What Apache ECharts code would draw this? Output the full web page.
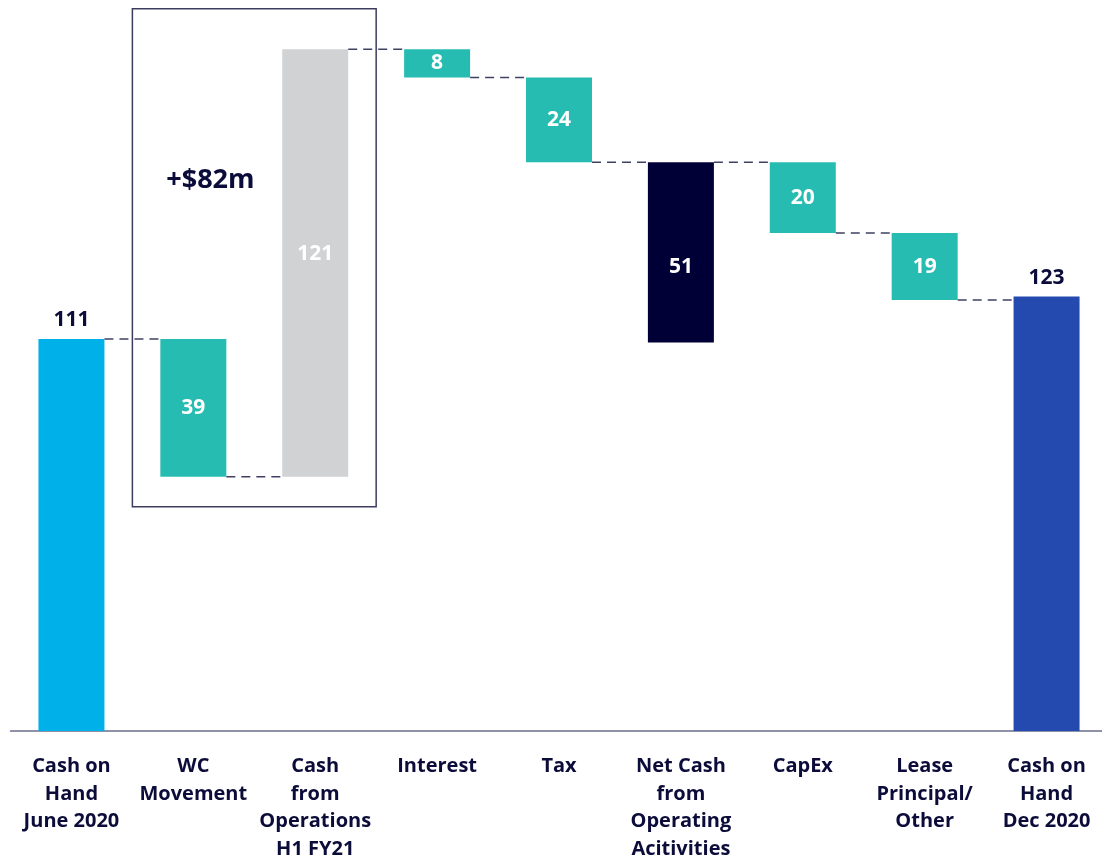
<!DOCTYPE html>
<html>
<head>
<meta charset="utf-8">
<script src="https://cdn.jsdelivr.net/npm/echarts@6/dist/echarts.min.js"></script>
<style>
  html, body { margin: 0; padding: 0; background: #fff; }
  #chart { width: 1102px; height: 861px; }
</style>
</head>
<body>
<div id="chart"></div>
<script>
  const categories = [
    'Cash on\nHand\nJune 2020',
    'WC\nMovement',
    'Cash\nfrom\nOperations\nH1 FY21',
    'Interest',
    'Tax',
    'Net Cash\nfrom\nOperating\nAcitivities',
    'CapEx',
    'Lease\nPrincipal/\nOther',
    'Cash on\nHand\nDec 2020'
  ]
  // total = from zero, up/down = moves the running level, sub = hangs from level
  const kinds = ['total', 'down', 'up', 'down', 'down', 'sub', 'down', 'down', 'total']
  const amounts = [111, 39, 121, 8, 24, 51, 20, 19, 123]
  const bracketLabel = '+$82m'

  const colors = {
    total: '#00b1e9',
    down: '#27bcb2',
    up: '#d1d2d4',
    sub: '#000036',
    end: '#254aaf'
  }
  const textDark = '#0c0c3a'
  const fontFamily = '"Open Sans", Lato, sans-serif'
  // small vertical nudges of the inside labels, as in the original
  const labelNudge = { 2: -9, 5: 15 }

  // running level -> base of every bar and the connector levels
  const bases = []
  const levels = []
  let level = 0
  amounts.forEach((v, i) => {
    const k = kinds[i]
    if (k === 'total') {
      bases.push(0)
      level = v
    } else if (k === 'up') {
      bases.push(level)
      level += v
    } else if (k === 'down') {
      level -= v
      bases.push(level)
    } else {
      bases.push(level - v)
    }
    levels.push(level)
  })

  const barColor = (i) => {
    if (kinds[i] === 'total') return i === 0 ? colors.total : colors.end
    return colors[kinds[i]]
  }

  const barWidth = 66
  const chart = echarts.init(document.getElementById('chart'))

  const option = {
    backgroundColor: '#fff',
    animation: false,
    grid: { left: 10.5, width: 1097, top: 6.9, bottom: 130, outerBoundsMode: 'none', containLabel: false },
    xAxis: {
      type: 'category',
      data: categories,
      axisLine: { lineStyle: { color: '#6b6d8c', width: 1.5 } },
      axisTick: { show: false },
      axisLabel: {
        interval: 0,
        margin: 22,
        color: textDark,
        fontFamily,
        fontWeight: 'bold',
        fontSize: 20,
        lineHeight: 27.5,
        align: 'center'
      }
    },
    yAxis: {
      type: 'value',
      min: 0,
      max: 205,
      show: false
    },
    series: [
      {
        name: 'base',
        type: 'bar',
        stack: 'wf',
        barWidth,
        silent: true,
        itemStyle: { color: 'transparent' },
        data: bases
      },
      {
        name: 'value',
        type: 'bar',
        stack: 'wf',
        barWidth,
        data: amounts.map((v, i) => ({
          value: v,
          itemStyle: { color: barColor(i) },
          label: kinds[i] === 'total'
            ? { show: true, position: 'top', distance: 8, color: textDark }
            : { show: true, position: 'inside', color: '#fff', offset: [0, labelNudge[i] || 0] }
        })),
        label: {
          fontFamily,
          fontWeight: 'bold',
          fontSize: 21
        }
      },
      {
        name: 'connectors',
        type: 'custom',
        silent: true,
        z: 3,
        data: levels.slice(0, -1).map((v, i) => [i, v]),
        renderItem: (params, api) => {
          const p = api.coord([api.value(0), api.value(1)])
          const band = api.size([1, 0])[0]
          return {
            type: 'line',
            shape: {
              x1: p[0] + barWidth / 2,
              y1: p[1],
              x2: p[0] + band - barWidth / 2,
              y2: p[1]
            },
            style: { stroke: '#3f4063', lineWidth: 1.5, lineDash: [9, 6] }
          }
        }
      },
      {
        name: 'bracket',
        type: 'custom',
        silent: true,
        z: 4,
        data: [[1, 2, 63.5, 204.5, 156]],
        renderItem: (params, api) => {
          const band = api.size([1, 0])[0]
          const lt = api.coord([api.value(0), api.value(3)])
          const rb = api.coord([api.value(1), api.value(2)])
          const x0 = lt[0] - band / 2
          const x1 = rb[0] + band / 2
          const ty = api.coord([api.value(0), api.value(4)])[1]
          return {
            type: 'group',
            children: [
              {
                type: 'rect',
                shape: { x: x0, y: lt[1], width: x1 - x0, height: rb[1] - lt[1] },
                style: { fill: 'none', stroke: '#3c3d5e', lineWidth: 1.5 }
              },
              {
                type: 'text',
                style: {
                  x: x0 + 78,
                  y: ty,
                  text: bracketLabel,
                  fill: textDark,
                  font: 'bold 27px ' + fontFamily,
                  align: 'center',
                  verticalAlign: 'middle'
                }
              }
            ]
          }
        }
      }
    ]
  }

  chart.setOption(option)
</script>
</body>
</html>
